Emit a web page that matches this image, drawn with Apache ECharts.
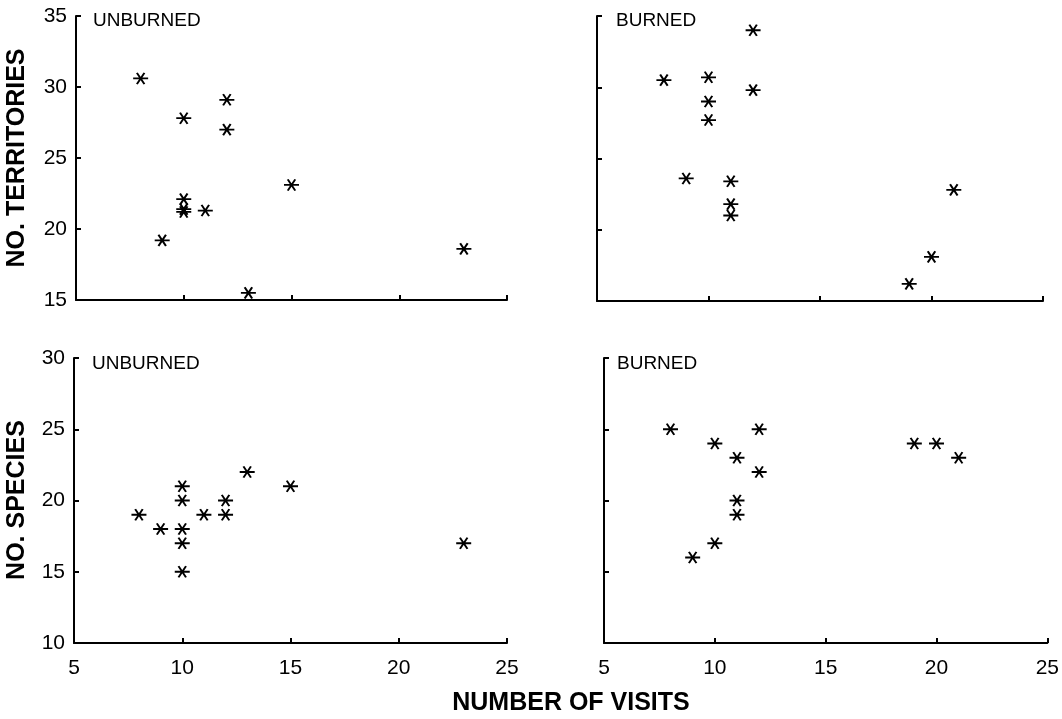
<!DOCTYPE html>
<html>
<head>
<meta charset="utf-8">
<script src="https://cdn.jsdelivr.net/npm/echarts@6/dist/echarts.min.js"></script>
<style>
html,body{margin:0;padding:0;background:#fff;}
#c{width:1062px;height:719px;}
</style>
</head>
<body>
<div id="c"></div>
<script>
// Unburned: number of territories vs number of visits
var terrUnburnedVisits = [8, 10, 12, 12, 15, 10, 10, 10, 11, 9, 13, 23];
var terrUnburnedValues = [30.6, 27.8, 29.1, 27.0, 23.1, 22.1, 21.2, 21.4, 21.3, 19.2, 15.5, 18.6];
// Burned: number of territories vs number of visits
var terrBurnedVisits = [8, 10, 10, 10, 12, 12, 9, 11, 11, 11, 21, 20, 19];
var terrBurnedValues = [30.5, 30.7, 29.0, 27.7, 34.0, 29.8, 23.6, 23.4, 21.8, 21.0, 22.8, 18.1, 16.2];
// Unburned: number of species vs number of visits
var specUnburnedVisits = [8, 9, 10, 10, 10, 10, 10, 11, 12, 12, 13, 15, 23];
var specUnburnedValues = [19, 18, 21, 20, 18, 17, 15, 19, 20, 19, 22, 21, 17];
// Burned: number of species vs number of visits
var specBurnedVisits = [8, 10, 11, 12, 12, 11, 11, 10, 9, 19, 20, 21];
var specBurnedValues = [25, 24, 23, 25, 22, 20, 19, 17, 16, 24, 24, 23];

var panelLabels = ['UNBURNED', 'BURNED', 'UNBURNED', 'BURNED'];
var yTitleTop = 'NO. TERRITORIES';
var yTitleBottom = 'NO. SPECIES';
var xTitle = 'NUMBER OF VISITS';

function zip(xs, ys) { return xs.map(function (x, i) { return [x, ys[i]]; }); }

var FONT = '"Liberation Sans", Arial, Helvetica, sans-serif';
var star = 'path://M0,4.33L10,4.33M2.5,0L7.5,8.66M7.5,0L2.5,8.66';

var grids = [
  {left: 76, top: 16, width: 431, height: 284},
  {left: 597, top: 16, width: 446, height: 285},
  {left: 74, top: 358, width: 433, height: 285},
  {left: 604, top: 358, width: 446, height: 285}
];

function xAxis(i, showLabel) {
  return {
    type: 'value', gridIndex: i, min: 5, max: 25, interval: 5,
    axisLine: {show: true, onZero: false, lineStyle: {color: '#000', width: 2}},
    axisTick: {show: true, inside: true, length: 5, lineStyle: {color: '#000', width: 2}},
    axisLabel: {show: showLabel, color: '#000', fontSize: 21, fontFamily: FONT, margin: 15},
    splitLine: {show: false}
  };
}
function yAxis(i, min, max, showLabel) {
  return {
    type: 'value', gridIndex: i, min: min, max: max, interval: 5,
    axisLine: {show: true, onZero: false, lineStyle: {color: '#000', width: 2}},
    axisTick: {show: true, inside: true, length: 5, lineStyle: {color: '#000', width: 2}},
    axisLabel: {show: showLabel, color: '#000', fontSize: 21, fontFamily: FONT, margin: 9},
    splitLine: {show: false}
  };
}
function series(i, data) {
  return {
    type: 'scatter', xAxisIndex: i, yAxisIndex: i, data: data,
    symbol: star, symbolSize: [15, 13], symbolKeepAspect: true,
    itemStyle: {color: 'rgba(0,0,0,0)', borderColor: '#000', borderWidth: 1.9, opacity: 1},
    emphasis: {disabled: true}, silent: true, animation: false
  };
}

var labelPos = [[93, 21], [616, 21], [92, 364], [617, 364]];
var graphics = labelPos.map(function (p, i) {
  return {type: 'text', x: p[0], y: p[1], silent: true,
    style: {text: panelLabels[i], fill: '#000', font: '19px ' + FONT, textAlign: 'left', textVerticalAlign: 'middle'}};
});
graphics.push({type: 'text', x: 17, y: 158, rotation: Math.PI / 2, silent: true,
  style: {text: yTitleTop, fill: '#000', font: 'bold 25px ' + FONT, textAlign: 'center', textVerticalAlign: 'middle'}});
graphics.push({type: 'text', x: 17, y: 500, rotation: Math.PI / 2, silent: true,
  style: {text: yTitleBottom, fill: '#000', font: 'bold 25px ' + FONT, textAlign: 'center', textVerticalAlign: 'middle'}});
graphics.push({type: 'text', x: 571, y: 703, silent: true,
  style: {text: xTitle, fill: '#000', font: 'bold 25px ' + FONT, textAlign: 'center', textVerticalAlign: 'middle'}});

var chart = echarts.init(document.getElementById('c'), null, {renderer: 'canvas'});
chart.setOption({
  animation: false,
  backgroundColor: '#fff',
  grid: grids,
  xAxis: [xAxis(0, false), xAxis(1, false), xAxis(2, true), xAxis(3, true)],
  yAxis: [yAxis(0, 15, 35, true), yAxis(1, 15, 35, false), yAxis(2, 10, 30, true), yAxis(3, 10, 30, false)],
  series: [
    series(0, zip(terrUnburnedVisits, terrUnburnedValues)),
    series(1, zip(terrBurnedVisits, terrBurnedValues)),
    series(2, zip(specUnburnedVisits, specUnburnedValues)),
    series(3, zip(specBurnedVisits, specBurnedValues))
  ],
  graphic: graphics
});
</script>
</body>
</html>
